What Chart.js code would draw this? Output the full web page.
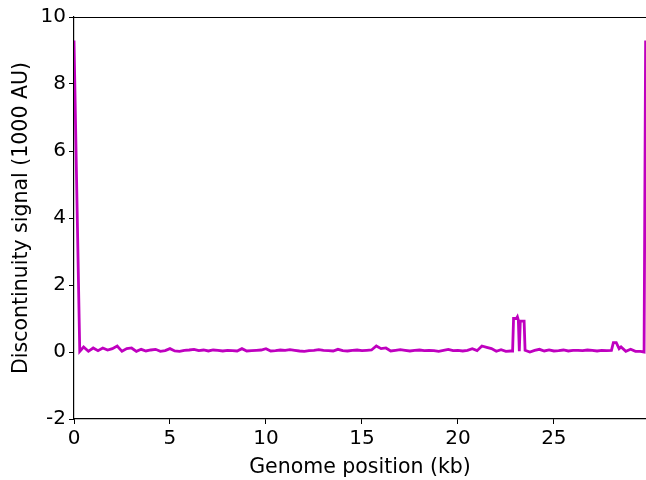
<!DOCTYPE html>
<html>
<head>
<meta charset="utf-8">
<script src="https://cdn.jsdelivr.net/npm/chart.js@4/dist/chart.umd.min.js"></script>
<style>
  html, body { margin: 0; padding: 0; background: #fff; }
  #wrap { width: 646px; height: 480px; }
</style>
</head>
<body>
<div id="wrap"><canvas id="signal"></canvas></div>
<script>
// genome position (kb)
var positions = [
  0, 0.3, 0.5, 0.75, 1.0, 1.25, 1.5, 1.75, 2.0, 2.25, 2.5, 2.75, 3.0, 3.25, 3.5, 3.75,
  4.0, 4.25, 4.5, 4.75, 5.0, 5.25, 5.5, 5.75, 6.0, 6.25, 6.5, 6.75, 7.0, 7.25, 7.5, 7.75,
  8.0, 8.25, 8.5, 8.75, 9.0, 9.25, 9.5, 9.75, 10.0, 10.25, 10.5, 10.75, 11.0, 11.25, 11.5, 11.75,
  12.0, 12.25, 12.5, 12.75, 13.0, 13.25, 13.5, 13.75, 14.0, 14.25, 14.5, 14.75, 15.0, 15.25, 15.5, 15.75,
  16.0, 16.25, 16.5, 16.75, 17.0, 17.25, 17.5, 17.75, 18.0, 18.25, 18.5, 18.75, 19.0, 19.25, 19.5, 19.75,
  20.0, 20.25, 20.5, 20.75, 21.0, 21.25, 21.5, 21.75, 22.0, 22.25, 22.5, 22.75, 22.85, 22.9, 23.05, 23.1,
  23.15, 23.2, 23.25, 23.45, 23.5, 23.75, 24.0, 24.25, 24.5, 24.75, 25.0, 25.25, 25.5, 25.75,
  26.0, 26.25, 26.5, 26.75, 27.0, 27.25, 27.5, 27.75, 28.0, 28.1, 28.25, 28.4, 28.5, 28.75,
  29.0, 29.25, 29.5, 29.7, 29.78
];
// discontinuity signal (1000 AU)
var signal = [
  9.3, 0.02, 0.15, 0.02, 0.12, 0.04, 0.12, 0.06, 0.1, 0.18, 0.02, 0.1, 0.12, 0.02, 0.08, 0.03,
  0.06, 0.08, 0.02, 0.04, 0.1, 0.03, 0.02, 0.05, 0.06, 0.08, 0.04, 0.06, 0.03, 0.06, 0.05, 0.03,
  0.05, 0.04, 0.03, 0.1, 0.03, 0.04, 0.05, 0.06, 0.1, 0.03, 0.04, 0.06, 0.05, 0.07, 0.05, 0.03,
  0.02, 0.04, 0.05, 0.07, 0.05, 0.04, 0.03, 0.08, 0.04, 0.03, 0.05, 0.06, 0.04, 0.05, 0.06, 0.18,
  0.1, 0.12, 0.03, 0.05, 0.07, 0.05, 0.03, 0.05, 0.06, 0.04, 0.05, 0.04, 0.02, 0.05, 0.08, 0.04,
  0.05, 0.03, 0.05, 0.1, 0.04, 0.18, 0.14, 0.1, 0.02, 0.07, 0.02, 0.03, 0.03, 1.0, 1.0, 1.05,
  0.95, 0.02, 0.92, 0.92, 0.05, 0.0, 0.05, 0.08, 0.03, 0.06, 0.03, 0.04, 0.06, 0.03,
  0.05, 0.05, 0.04, 0.06, 0.05, 0.03, 0.05, 0.04, 0.05, 0.28, 0.28, 0.1, 0.15, 0.02,
  0.08, 0.02, 0.02, 0.0, 9.3
];
var xTicks = [0, 5, 10, 15, 20, 25];
var yTicks = [-2, 0, 2, 4, 6, 8, 10];

var points = positions.map(function (x, i) { return { x: x, y: signal[i] }; });

// matplotlib-like top spine
var frame = {
  id: 'frame',
  afterDraw: function (chart) {
    var a = chart.chartArea, c = chart.ctx;
    c.save();
    c.strokeStyle = '#000';
    c.lineWidth = 1.2;
    c.beginPath();
    c.moveTo(a.left, a.top + 0.5);
    c.lineTo(a.right, a.top + 0.5);
    c.stroke();
    c.restore();
  }
};

var font = { family: 'DejaVu Sans', size: 20 };
var titleFont = { family: 'DejaVu Sans', size: 20.5 };

new Chart(document.getElementById('signal'), {
  type: 'scatter',
  data: {
    datasets: [{
      data: points,
      showLine: true,
      borderColor: '#bf00bf',
      backgroundColor: '#bf00bf',
      borderWidth: 2.8,
      pointRadius: 0,
      tension: 0
    }]
  },
  options: {
    responsive: true,
    maintainAspectRatio: false,
    animation: false,
    layout: { padding: { top: 17, right: 0, left: 0, bottom: 0 } },
    plugins: { legend: { display: false }, tooltip: { enabled: false } },
    scales: {
      x: {
        type: 'linear',
        min: 0,
        max: 29.8,
        afterBuildTicks: function (s) { s.ticks = xTicks.map(function (v) { return { value: v }; }); },
        afterFit: function (s) { s.height = 61; },
        ticks: { font: font, color: '#000', padding: 3, maxRotation: 0 },
        grid: { drawOnChartArea: false, tickLength: 5, tickColor: '#000' },
        border: { color: '#000', width: 1.2 },
        title: { display: true, text: 'Genome position (kb)', font: titleFont, color: '#000', padding: { top: 0, bottom: 0 } }
      },
      y: {
        min: -2,
        max: 10,
        afterBuildTicks: function (s) { s.ticks = yTicks.map(function (v) { return { value: v }; }); },
        afterFit: function (s) { s.width = 74; },
        ticks: { font: font, color: '#000', padding: 3 },
        grid: { drawOnChartArea: false, tickLength: 5, tickColor: '#000' },
        border: { color: '#000', width: 1.2 },
        title: { display: true, text: 'Discontinuity signal (1000 AU)', font: titleFont, color: '#000', padding: { top: 9, bottom: 2 } }
      }
    }
  },
  plugins: [frame]
});
</script>
</body>
</html>
